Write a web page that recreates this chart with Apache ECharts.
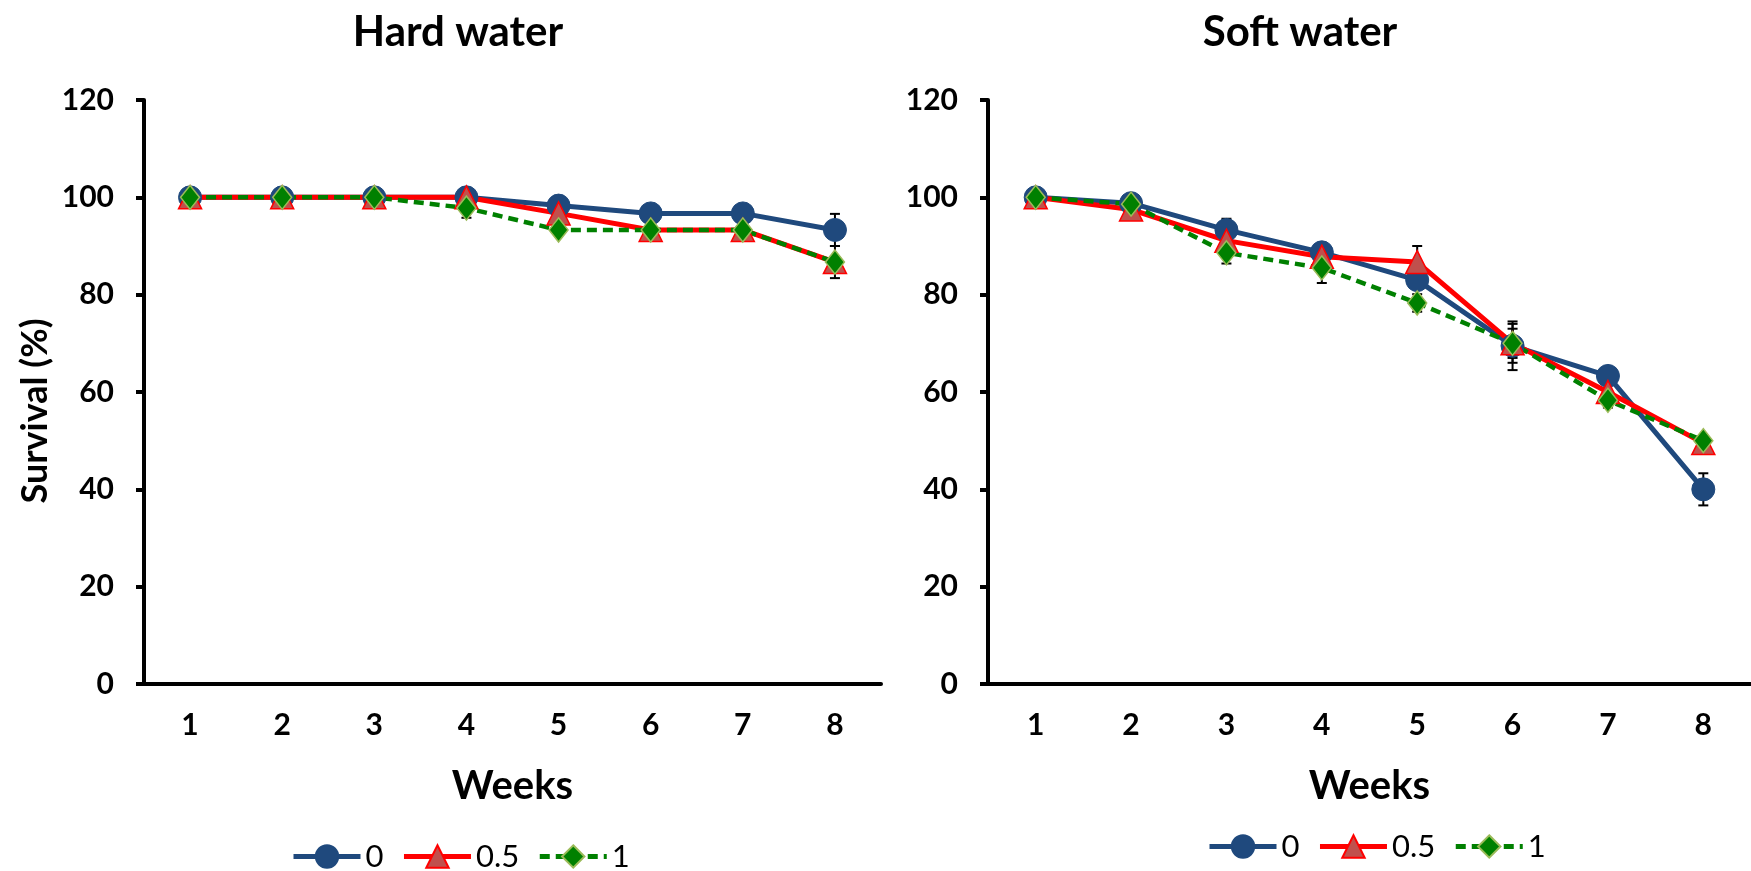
<!DOCTYPE html>
<html>
<head>
<meta charset="utf-8">
<script src="https://cdn.jsdelivr.net/npm/echarts@6/dist/echarts.min.js"></script>
<style>
  html, body { margin: 0; padding: 0; background: #fff; }
  #chart { width: 1751px; height: 871px; }
</style>
</head>
<body>
<div id="chart"></div>
<script>
var weeks = ['1', '2', '3', '4', '5', '6', '7', '8'];
var yTicks = [0, 20, 40, 60, 80, 100, 120];
var seriesNames = ['0', '0.5', '1'];

// Hard water, survival %
var hard0 = [100, 100, 100, 100, 98.3, 96.7, 96.7, 93.3];
var hard05 = [100, 100, 100, 100, 96.7, 93.3, 93.3, 86.7];
var hard1 = [100, 100, 100, 97.8, 93.3, 93.3, 93.3, 86.7];
var hardSd0 = [0, 0, 0, 0, 0, 0, 0, 3.3];
var hardSd05 = [0, 0, 0, 0, 0, 0, 0, 3.3];
var hardSd1 = [0, 0, 0, 2.0, 0, 0, 0, 0];

// Soft water, survival %
var soft0 = [100, 98.8, 93.3, 88.7, 83.0, 69.5, 63.3, 40.0];
var soft05 = [100, 97.5, 91.1, 87.8, 86.7, 70.0, 60.0, 49.5];
var soft1 = [100, 98.6, 88.6, 85.5, 78.3, 70.0, 58.3, 50.0];
var softSd0 = [0, 0, 2.3, 0, 0, 5.0, 0, 3.3];
var softSd05 = [0, 0, 0, 0, 3.3, 4.0, 0, 0];
var softSd1 = [0, 0, 2.2, 3.1, 1.8, 3.0, 1.5, 0];

var FONT = 'Lato, "Open Sans", sans-serif';
var BLUE = '#1F497D';
var RED = '#FF0000';
var GREEN = '#008000';

var chart = echarts.init(document.getElementById('chart'));

//误差线数据 [x, low, high]
function errData(means, sds) {
    var out = [];
    for (var i = 0; i < means.length; i++) {
        if (sds[i] > 0) {
            out.push([i, means[i] - sds[i], means[i] + sds[i]]);
        }
    }
    return out;
}

function renderErr(params, api) {
    var x = api.value(0);
    var lo = api.coord([x, api.value(1)]);
    var hi = api.coord([x, api.value(2)]);
    var cw = 5;
    var st = { stroke: '#000', lineWidth: 2 };
    return {
        type: 'group',
        children: [
            { type: 'line', shape: { x1: lo[0], y1: lo[1], x2: hi[0], y2: hi[1] }, style: st },
            { type: 'line', shape: { x1: hi[0] - cw, y1: hi[1], x2: hi[0] + cw, y2: hi[1] }, style: st },
            { type: 'line', shape: { x1: lo[0] - cw, y1: lo[1], x2: lo[0] + cw, y2: lo[1] }, style: st }
        ]
    };
}

function errSeries(idx, means, sds) {
    return {
        type: 'custom',
        xAxisIndex: idx,
        yAxisIndex: idx,
        renderItem: renderErr,
        data: errData(means, sds),
        z: 1,
        silent: true
    };
}

function lineSeries(idx, name, data) {
    var s = {
        name: name,
        type: 'line',
        xAxisIndex: idx,
        yAxisIndex: idx,
        data: data,
        z: 3
    };
    if (name == '0') {
        s.symbol = 'circle';
        s.symbolSize = 23;
        s.lineStyle = { color: BLUE, width: 5 };
        s.itemStyle = { color: BLUE, borderColor: BLUE, borderWidth: 1 };
    } else if (name == '0.5') {
        s.symbol = 'triangle';
        s.symbolSize = 23;
        s.lineStyle = { color: RED, width: 5 };
        s.itemStyle = { color: '#C0504D', borderColor: RED, borderWidth: 1.5 };
    } else {
        s.symbol = 'diamond';
        s.symbolSize = [19, 24];
        s.lineStyle = { color: GREEN, width: 4.5, type: [10, 6] };
        s.itemStyle = { color: GREEN, borderColor: '#9BBB59', borderWidth: 1.5 };
    }
    return s;
}

function xAxisCfg(idx) {
    return {
        type: 'category',
        gridIndex: idx,
        data: weeks,
        boundaryGap: true,
        name: 'Weeks',
        nameLocation: 'middle',
        nameGap: 82,
        nameTextStyle: { fontFamily: FONT, fontWeight: 'bold', fontSize: 40, color: '#000' },
        axisLine: { lineStyle: { color: '#000', width: 4 } },
        axisTick: { alignWithLabel: true, length: 7, lineStyle: { color: '#000', width: 4 } },
        axisLabel: { margin: 26, fontFamily: FONT, fontWeight: 'bold', fontSize: 30, color: '#000' },
        splitLine: { show: false }
    };
}

function yAxisCfg(idx) {
    return {
        type: 'value',
        gridIndex: idx,
        min: yTicks[0],
        max: yTicks[yTicks.length - 1],
        interval: 20,
        axisLine: { show: true, lineStyle: { color: '#000', width: 4 } },
        axisTick: { show: true, length: 8, lineStyle: { color: '#000', width: 4 } },
        axisLabel: { margin: 30, fontFamily: FONT, fontWeight: 'bold', fontSize: 30, color: '#000' },
        splitLine: { show: false }
    };
}

function legendCfg(left, top) {
    return {
        left: left,
        top: top,
        padding: 0,
        itemWidth: 67,
        itemHeight: 28,
        itemGap: 18,
        data: seriesNames,
        lineStyle: { width: 5 },
        textStyle: { fontFamily: FONT, fontSize: 31, color: '#000' }
    };
}

chart.setOption({
    animation: false,
    backgroundColor: '#fff',
    title: [
        { text: 'Hard water', left: 453, top: 6, textAlign: 'center',
          textStyle: { fontFamily: FONT, fontWeight: 'bold', fontSize: 42, color: '#000' } },
        { text: 'Soft water', left: 1295, top: 6, textAlign: 'center',
          textStyle: { fontFamily: FONT, fontWeight: 'bold', fontSize: 42, color: '#000' } }
    ],
    graphic: [{
        type: 'text',
        x: 35,
        y: 411,
        rotation: Math.PI / 2,
        style: {
            text: 'Survival (%)',
            fontFamily: FONT,
            fontWeight: 'bold',
            fontSize: 36,
            fill: '#000',
            align: 'center',
            verticalAlign: 'middle'
        }
    }],
    legend: [legendCfg(291, 841), legendCfg(1207, 831)],
    grid: [
        { left: 144, top: 100, width: 737, height: 584 },
        { left: 988, top: 100, width: 769, height: 584 }
    ],
    xAxis: [xAxisCfg(0), xAxisCfg(1)],
    yAxis: [yAxisCfg(0), yAxisCfg(1)],
    series: [
        errSeries(0, hard0, hardSd0),
        errSeries(0, hard05, hardSd05),
        errSeries(0, hard1, hardSd1),
        lineSeries(0, '0', hard0),
        lineSeries(0, '0.5', hard05),
        lineSeries(0, '1', hard1),
        errSeries(1, soft0, softSd0),
        errSeries(1, soft05, softSd05),
        errSeries(1, soft1, softSd1),
        lineSeries(1, '0', soft0),
        lineSeries(1, '0.5', soft05),
        lineSeries(1, '1', soft1)
    ]
});
</script>
</body>
</html>
